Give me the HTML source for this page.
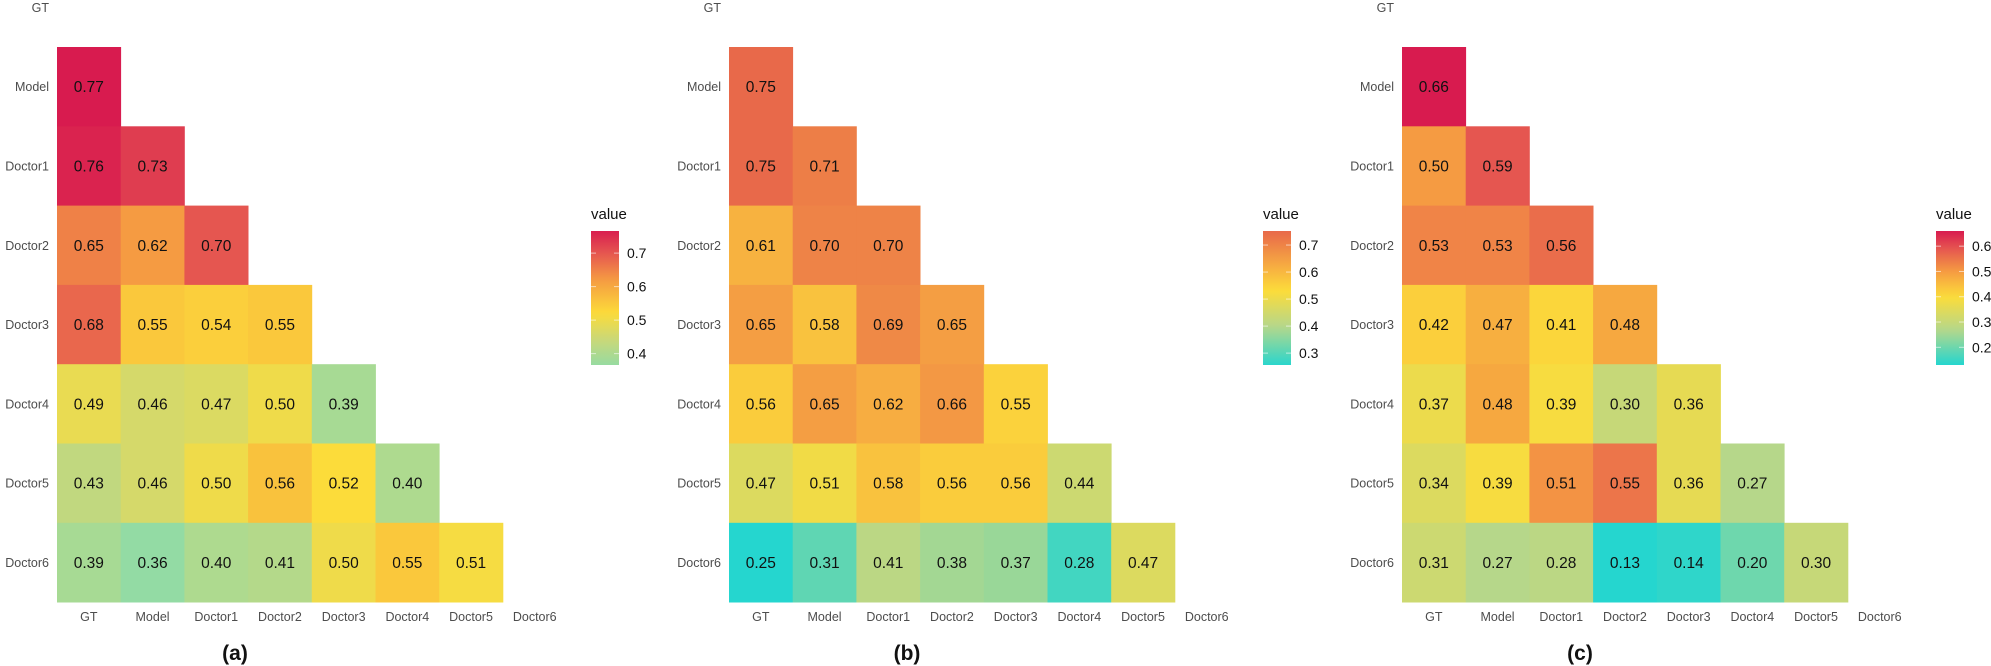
<!DOCTYPE html>
<html><head><meta charset="utf-8"><style>
html,body{margin:0;padding:0;background:#fff;}
svg{display:block;font-family:"Liberation Sans",Arial,sans-serif;}
</style></head><body>
<svg id="s" width="1991" height="666" xmlns="http://www.w3.org/2000/svg"></svg>
<script>
const names=["GT","Model","Doctor1","Doctor2","Doctor3","Doctor4","Doctor5","Doctor6"];
const panels=[
 {off:0,cap:"(a)",data:[[0.77],[0.76,0.73],[0.65,0.62,0.70],[0.68,0.55,0.54,0.55],[0.49,0.46,0.47,0.50,0.39],[0.43,0.46,0.50,0.56,0.52,0.40],[0.39,0.36,0.40,0.41,0.50,0.55,0.51]],
  stops:[[0.36,"#93dba4"],[0.44,"#c8d87a"],[0.52,"#fcdc3a"],[0.62,"#f59b42"],[0.70,"#e55650"],[0.77,"#d81b4f"]],
  top:0.766,bot:0.366,ticks:[0.4,0.5,0.6,0.7]},
 {off:672,cap:"(b)",data:[[0.75],[0.75,0.71],[0.61,0.70,0.70],[0.65,0.58,0.69,0.65],[0.56,0.65,0.62,0.66,0.55],[0.47,0.51,0.58,0.56,0.56,0.44],[0.25,0.31,0.41,0.38,0.37,0.28,0.47]],
  stops:[[0.25,"#25d6cf"],[0.40,"#b6d78a"],[0.53,"#fcdc3a"],[0.63,"#f6a842"],[0.75,"#e8694a"]],
  top:0.752,bot:0.256,ticks:[0.3,0.4,0.5,0.6,0.7]},
 {off:1345,cap:"(c)",data:[[0.66],[0.50,0.59],[0.53,0.53,0.56],[0.42,0.47,0.41,0.48],[0.37,0.48,0.39,0.30,0.36],[0.34,0.39,0.51,0.55,0.36,0.27],[0.31,0.27,0.28,0.13,0.14,0.20,0.30]],
  stops:[[0.13,"#25d6cf"],[0.27,"#b6d78a"],[0.40,"#fcdc3a"],[0.50,"#f59b42"],[0.59,"#e55650"],[0.66,"#d81b4f"]],
  top:0.66,bot:0.13,ticks:[0.2,0.3,0.4,0.5,0.6]}
];
function hx(c){return [1,3,5].map(i=>parseInt(c.substr(i,2),16));}
function col(st,v){
 if(v<=st[0][0])return st[0][1];
 for(let i=1;i<st.length;i++){if(v<=st[i][0]){const t=(v-st[i-1][0])/(st[i][0]-st[i-1][0]);const a=hx(st[i-1][1]),b=hx(st[i][1]);return "rgb("+a.map((x,k)=>Math.round(x+(b[k]-x)*t)).join(",")+")";}}
 return st[st.length-1][1];
}
let h="";const x0=57,cw=63.7,y0=47,rh=79.3;
panels.forEach((p,pi)=>{
 const o=p.off;
 // y labels
 names.forEach((n,i)=>{h+=`<text x="${o+49}" y="${y0-rh/2+i*rh+4.5}" text-anchor="end" font-size="12.5" fill="#4d4d4d">${n}</text>`;});
 names.forEach((n,i)=>{h+=`<text x="${o+x0+cw*(i+0.5)}" y="621" text-anchor="middle" font-size="12.5" fill="#4d4d4d">${n}</text>`;});
 p.data.forEach((row,r)=>{row.forEach((v,c)=>{
  const x=o+x0+c*cw,y=y0+r*rh;
  h+=`<rect x="${x}" y="${y}" width="${cw+0.4}" height="${rh+0.4}" fill="${col(p.stops,v)}"/>`;
  h+=`<text x="${x+cw/2}" y="${y+rh/2+5.5}" text-anchor="middle" font-size="15.5" fill="#111">${v.toFixed(2)}</text>`;
 });});
 // legend
 const lx=591+o,ly=231,lh=134,id="g"+pi;
 let g=`<linearGradient id="${id}" x1="0" y1="1" x2="0" y2="0">`;
 for(let k=0;k<=20;k++){const v=p.bot+(p.top-p.bot)*k/20;g+=`<stop offset="${k/20}" stop-color="${col(p.stops,v)}"/>`;}
 g+="</linearGradient>";
 h+=`<defs>${g}</defs><rect x="${lx}" y="${ly}" width="28" height="${lh}" fill="url(#${id})"/>`;
 h+=`<text x="${lx}" y="219" font-size="15" fill="#111">value</text>`;
 p.ticks.forEach(t=>{const y=ly+lh*(p.top-t)/(p.top-p.bot);
  h+=`<line x1="${lx}" x2="${lx+5}" y1="${y}" y2="${y}" stroke="#fff" stroke-opacity="0.6"/><line x1="${lx+23}" x2="${lx+28}" y1="${y}" y2="${y}" stroke="#fff" stroke-opacity="0.6"/>`;
  h+=`<text x="${lx+36}" y="${y+5}" font-size="14" fill="#111">${t.toFixed(1)}</text>`;});
 h+=`<text x="${o+235}" y="660" text-anchor="middle" font-size="21" font-weight="bold" fill="#111">${p.cap}</text>`;
});
document.getElementById("s").innerHTML=h;
</script>
</body></html>
